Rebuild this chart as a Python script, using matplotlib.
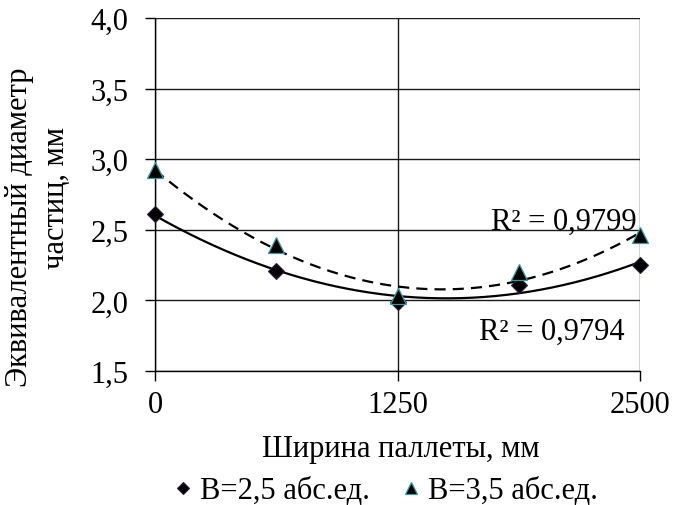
import numpy as np
import matplotlib
matplotlib.use("Agg")
import matplotlib.pyplot as plt
from matplotlib.ticker import FuncFormatter

plt.rcParams['font.family'] = ['Liberation Serif', 'DejaVu Serif']

width_mm = [0, 625, 1250, 1875, 2500]
diam_b25 = [2.61, 2.21, 1.99, 2.11, 2.25]
diam_b35 = [2.92, 2.39, 2.03, 2.20, 2.46]
label_b25 = "B=2,5 абс.ед."
label_b35 = "B=3,5 абс.ед."
r2_b25 = "R² = 0,9794"
r2_b35 = "R² = 0,9799"
x_ticks = [0, 1250, 2500]
y_ticks = [1.5, 2.0, 2.5, 3.0, 3.5, 4.0]

W, H = 673, 506
FS = 22

fig = plt.figure(figsize=(W / 100, H / 100), dpi=100)
L, R, T, B = 155, 640, 19, 372
ax = fig.add_axes([L / W, 1 - B / H, (R - L) / W, (B - T) / H])

# second-order polynomial trend lines
xs = np.linspace(0, 2500, 300)
for y, ls in ((diam_b25, '-'), (diam_b35, (0, (5, 3.2)))):
    c = np.polyfit(width_mm, y, 2)
    ax.plot(xs, np.polyval(c, xs), color='black', lw=1.6, linestyle=ls, zorder=2)

ax.plot(width_mm, diam_b25, linestyle='none', marker='D', ms=8.3, mfc='black',
        mec='#2b1d3d', mew=0.8, label=label_b25, zorder=3, clip_on=False)
ax.plot(width_mm, diam_b35, linestyle='none', marker='^', ms=11.5, mfc='black',
        mec='#3a9aa0', mew=0.9, label=label_b35, zorder=3, clip_on=False)

ax.set_xlim(0, 2500)
ax.set_ylim(1.5, 4.0)
ax.set_xticks(x_ticks)
ax.set_yticks(y_ticks)
ax.yaxis.set_major_formatter(FuncFormatter(lambda v, p: f"{v:.1f}".replace('.', ',')))
ax.xaxis.set_major_formatter(FuncFormatter(lambda v, p: f"{v:.0f}"))
ax.grid(True, color='#1a1a1a', lw=1.0)
ax.set_axisbelow(True)
for s in ('top', 'right'):
    ax.spines[s].set_visible(False)
for s in ('left', 'bottom'):
    ax.spines[s].set_linewidth(1.0)
ax.tick_params(direction='out', length=7, width=1.0, labelsize=FS)
ax.tick_params(axis='y', pad=12)
ax.tick_params(axis='x', pad=7)

ax.text(2485, 2.562, r2_b35, fontsize=FS, ha='right', va='center')
ax.text(2423, 1.783, r2_b25, fontsize=FS, ha='right', va='center')

fig.text(401 / W, 1 - 450 / H, "Ширина паллеты, мм", fontsize=FS,
         ha='center', va='center')
fig.text(20 / W, 1 - 227 / H, "Эквивалентный диаметр", fontsize=FS,
         ha='center', va='center', rotation=90)
fig.text(57 / W, 1 - 198 / H, "частиц, мм", fontsize=FS,
         ha='center', va='center', rotation=90)

fig.legend(loc='center', bbox_to_anchor=(383 / W, 1 - 492 / H), ncol=2, frameon=False,
           fontsize=FS, handletextpad=0.05, columnspacing=0.85, markerscale=0.75,
           handlelength=1.0, borderpad=0, borderaxespad=0)

fig.savefig("out.png", dpi=100)
